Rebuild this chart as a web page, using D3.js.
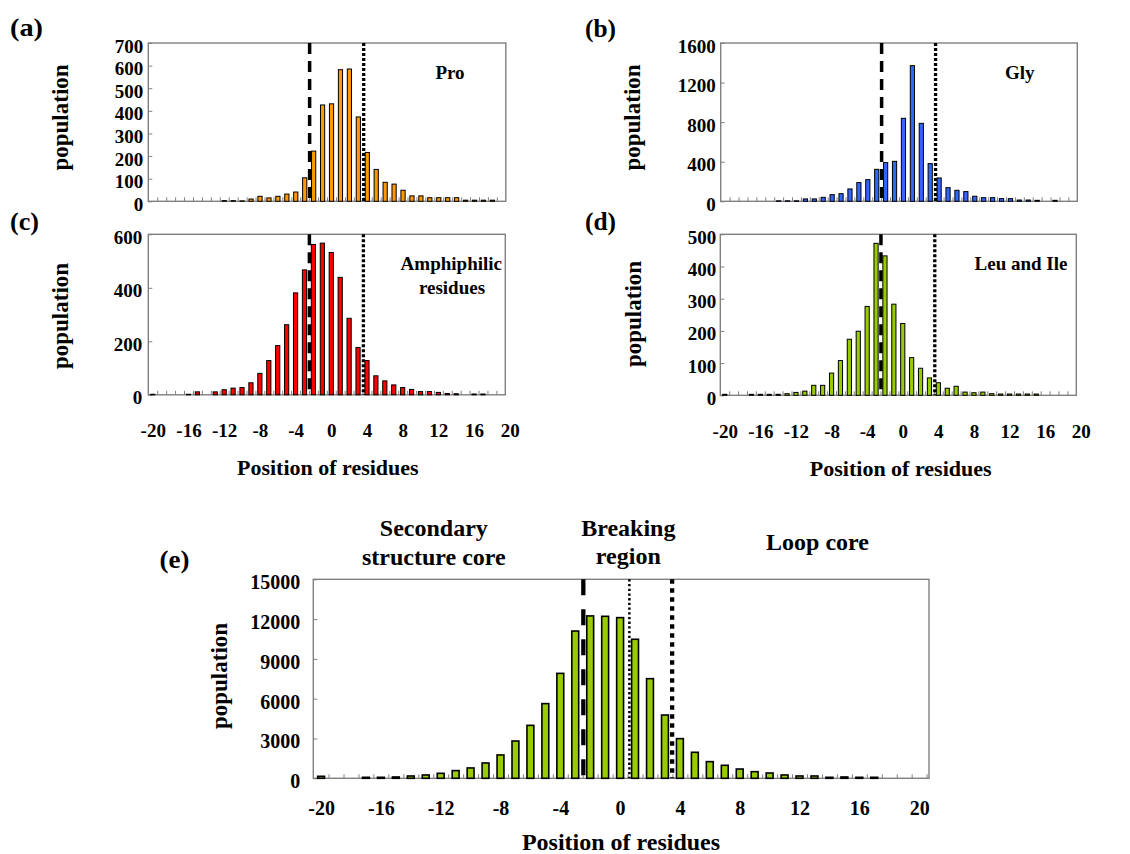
<!DOCTYPE html>
<html><head><meta charset="utf-8">
<script src="https://cdn.jsdelivr.net/npm/d3@7"></script>
<style>
body{margin:0;background:#fff;}
svg text{font-family:"Liberation Serif","DejaVu Serif",serif;font-weight:bold;fill:#000;}
</style></head><body>
<svg id="chart" width="1130" height="854" font-family="Liberation Serif, DejaVu Serif, serif" font-weight="bold"></svg>
<script>
// ---------------- data ----------------
const positions = [-20,-19,-18,-17,-16,-15,-14,-13,-12,-11,-10,-9,-8,-7,-6,-5,-4,-3,-2,-1,0,1,2,3,4,5,6,7,8,9,10,11,12,13,14,15,16,17,18,19,20];
const xTickLabels = [-20,-16,-12,-8,-4,0,4,8,12,16,20];

const proValues    = [0,0,0,0,0,0,0,0,3,3,2,10,22,15,22,32,41,104,222,426,431,582,585,373,216,141,84,76,49,24,24,16,16,16,16,5,5,5,5,0,0];
const glyValues    = [0,0,0,0,0,0,5,5,5,24,24,40,67,77,125,189,219,323,391,404,839,1371,788,381,236,138,111,98,51,37,37,27,27,13,13,10,0,10,0,0,0];
const amphValues   = [2,0,0,0,2,11,0,11,19,25,27,45,80,128,184,262,381,467,562,567,532,439,286,177,128,71,52,37,27,20,12,12,9,5,4,0,3,3,0,0,0];
const leuIleValues = [3,0,0,3,3,3,3,5,9,13,31,31,69,108,174,199,276,472,433,283,223,117,84,54,39,22,28,10,8,10,5,4,4,4,4,4,0,0,0,0,0];
const allValues    = [150,0,0,75,75,100,175,250,375,580,780,1155,1760,2810,3990,5630,7910,11100,12240,12210,12110,10480,7510,4770,2990,1960,1256,980,700,500,400,250,175,175,75,100,75,75,0,0,0];

const yTicksA = [0,100,200,300,400,500,600,700];
const yTicksB = [0,400,800,1200,1600];
const yTicksC = [0,200,400,600];
const yTicksD = [0,100,200,300,400,500];
const yTicksE = [0,3000,6000,9000,12000,15000];

// boundary lines (position of residues)
const boundaryDashed = -2.45;
const boundaryDotted = 3.6;
const boundaryE = [-2.46, 0.62, 3.48];

const panelNames = ["Pro","Gly",["Amphiphilic","residues"],"Leu and Ile"];

// ---------------- drawing ----------------
const svg = d3.select("#chart");
const FONT = "Liberation Serif, DejaVu Serif, serif";
const FONT_TICK = 19;
const fmt = d => String(d);

function txt(sel, size){
  return sel.attr("font-family", FONT).attr("font-weight","bold").attr("fill","#000").attr("font-size", size);
}

function drawPanel(cfg){
  const g = svg.append("g");
  const x = d3.scaleLinear().domain(cfg.xDomain).range([cfg.left, cfg.left + cfg.w]);
  const y = d3.scaleLinear().domain([0, cfg.yTicks[cfg.yTicks.length-1]]).range([cfg.top + cfg.h, cfg.top]);

  // box
  g.append("rect").attr("x", cfg.left).attr("y", cfg.top).attr("width", cfg.w).attr("height", cfg.h)
    .attr("fill","none").attr("stroke","#808080").attr("stroke-width",1.4);

  // minor x ticks at category boundaries
  const half = positions.map(p => p + 0.5).filter(v => v > cfg.xDomain[0] && v < cfg.xDomain[1]);
  const minor = g.append("g").attr("transform", `translate(0,${cfg.top + cfg.h})`)
    .call(d3.axisBottom(x).tickValues(half).tickSize(-4).tickFormat(""));
  minor.select(".domain").remove();
  minor.selectAll("line").attr("stroke","#808080").attr("stroke-width",1);

  // y axis
  const ya = g.append("g").attr("transform", `translate(${cfg.left},0)`)
    .call(d3.axisLeft(y).tickValues(cfg.yTicks).tickSize(-4).tickPadding(cfg.yPad).tickFormat(fmt));
  ya.select(".domain").remove();
  ya.attr("font-family", FONT).attr("font-size", cfg.tickFont).attr("font-weight","bold");
  ya.selectAll("line").attr("stroke","#808080");
  txt(ya.selectAll("text"), cfg.tickFont).attr("y", 3);

  // x labels
  if (cfg.showX){
    const xa = g.append("g").attr("transform", `translate(0,${cfg.top + cfg.h})`)
      .call(d3.axisBottom(x).tickValues(xTickLabels).tickSize(0).tickPadding(cfg.xPad).tickFormat(fmt));
    xa.select(".domain").remove();
    xa.attr("font-family", FONT).attr("font-size", cfg.tickFont).attr("font-weight","bold");
    txt(xa.selectAll("text"), cfg.tickFont);
    txt(g.append("text"), cfg.titleFont).attr("x", cfg.titleX).attr("y", cfg.titleY).attr("text-anchor","middle")
      .text("Position of residues");
  }

  // bars
  const data = positions.map((p,i) => ({p, v: cfg.values[i]})).filter(d => d.v > 0);
  const bw = x(cfg.barW) - x(0);
  g.append("g").selectAll("rect").data(data).join("rect")
    .attr("x", d => x(d.p) - bw/2).attr("width", bw)
    .attr("y", d => y(d.v)).attr("height", d => y(0) - y(d.v))
    .attr("fill", cfg.color).attr("stroke","#000").attr("stroke-width", cfg.barStroke);

  // boundary lines
  cfg.lines.forEach(l => {
    g.append("line").attr("x1", x(l.v)).attr("x2", x(l.v)).attr("y1", cfg.top).attr("y2", cfg.top + cfg.h)
      .attr("stroke","#000").attr("stroke-width", l.width).attr("stroke-dasharray", l.dash);
  });

  // y title
  txt(g.append("text"), 23).attr("transform", `translate(${cfg.popX + 5},${cfg.popY}) rotate(-90)`)
    .attr("text-anchor","middle").text("population");

  // panel letter
  txt(g.append("text"), 26).attr("x", cfg.letterX).attr("y", cfg.letterY)
    .attr("textLength", cfg.letterW).attr("lengthAdjust","spacingAndGlyphs").text(cfg.letter);

  return {g, x, y};
}

const smallLines = [
  {v: boundaryDashed, dash: "11,7", width: 3.5},
  {v: boundaryDotted, dash: "3,2", width: 3.3}
];

const pa = drawPanel({left:148.3, top:43, w:357.5, h:158.3, xDomain:[-20.5,19.5], yTicks:yTicksA, values:proValues,
  color:"#FF9900", showX:false, yPad:5, tickFont:FONT_TICK, barW:0.47, barStroke:1, lines:smallLines,
  popX:62.5, popY:117.5, letter:"(a)", letterX:10, letterY:36, letterW:33});
txt(pa.g.append("text"), 19).attr("x",450).attr("y",79).attr("text-anchor","middle").text(panelNames[0]);

const pb = drawPanel({left:720.7, top:43, w:356.6, h:158.3, xDomain:[-20.5,19.5], yTicks:yTicksB, values:glyValues,
  color:"#3366FF", showX:false, yPad:5, tickFont:FONT_TICK, barW:0.47, barStroke:1, lines:smallLines,
  popX:635, popY:117.5, letter:"(b)", letterX:585, letterY:36.5, letterW:31});
txt(pb.g.append("text"), 19).attr("x",1019.7).attr("y",79).attr("text-anchor","middle").text(panelNames[1]);

const pc = drawPanel({left:148.3, top:234.3, w:357, h:160.5, xDomain:[-20.5,19.5], yTicks:yTicksC, values:amphValues,
  color:"#FF0000", showX:true, xPad:29, yPad:6, tickFont:FONT_TICK, barW:0.47, barStroke:1, lines:smallLines,
  titleX:327.8, titleY:475, titleFont:22,
  popX:63, popY:316, letter:"(c)", letterX:10, letterY:229.5, letterW:29});
txt(pc.g.append("text"), 19).attr("x",451.3).attr("y",270).attr("text-anchor","middle").text(panelNames[2][0]);
txt(pc.g.append("text"), 19).attr("x",452).attr("y",294.3).attr("text-anchor","middle").text(panelNames[2][1]);

const pd = drawPanel({left:720.3, top:234.3, w:356, h:161, xDomain:[-20.5,19.5], yTicks:yTicksD, values:leuIleValues,
  color:"#99CC00", showX:true, xPad:29, yPad:4, tickFont:FONT_TICK, barW:0.47, barStroke:1, lines:smallLines,
  titleX:900.7, titleY:476, titleFont:22,
  popX:636, popY:314, letter:"(d)", letterX:585, letterY:229.5, letterW:31});
txt(pd.g.append("text"), 19).attr("x",1021).attr("y",270).attr("text-anchor","middle").text(panelNames[3]);

const pe = drawPanel({left:313.3, top:579.3, w:615.7, h:199, xDomain:[-20.52,20.66], yTicks:yTicksE, values:allValues,
  color:"#99CC00", showX:true, xPad:22.5, yPad:13, tickFont:20, barW:0.46, barStroke:1.6,
  lines:[
    {v: boundaryE[0], dash:"16,14", width:4.3},
    {v: boundaryE[1], dash:"2.3,2.4", width:2.5},
    {v: boundaryE[2], dash:"4.5,4.5", width:4.3}
  ],
  titleX:621, titleY:850, titleFont:24,
  popX:221.7, popY:676, letter:"(e)", letterX:159.5, letterY:568, letterW:30});

const eHeaders = [
  {t:"Secondary", x:433.8, y:536}, {t:"structure core", x:433.8, y:565},
  {t:"Breaking", x:628.3, y:536}, {t:"region", x:628.3, y:564.3},
  {t:"Loop core", x:817.5, y:550}
];
txt(pe.g.selectAll("text.hdr").data(eHeaders).join("text").attr("class","hdr"), 24)
  .attr("x", d => d.x).attr("y", d => d.y).attr("text-anchor","middle").text(d => d.t);
</script>
</body></html>
